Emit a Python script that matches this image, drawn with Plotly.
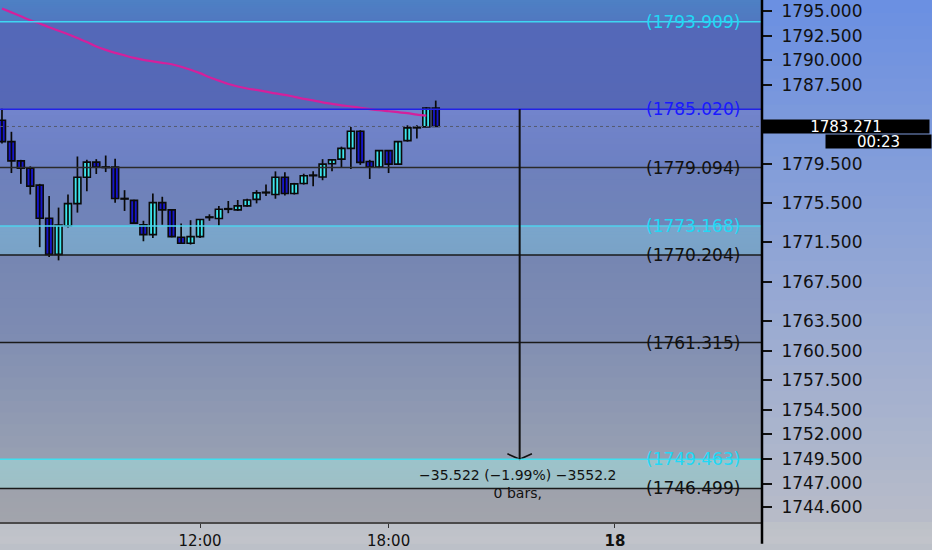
import plotly.graph_objects as go

# bar index of each candle
bar_index = list(range(47))

opens = [1783.90, 1781.73, 1779.78, 1779.04, 1777.31, 1773.95, 1770.28, 1773.19, 1775.43, 1778.11,
         1779.65, 1779.15, 1779.15, 1775.96, 1775.76, 1773.29, 1772.28, 1775.53, 1774.80, 1772.01,
         1771.41, 1772.08, 1774.02, 1773.92, 1774.86, 1774.80, 1775.20, 1775.86, 1776.53, 1776.36,
         1778.11, 1776.46, 1777.47, 1778.27, 1778.14, 1779.48, 1779.95, 1781.05, 1782.79, 1779.72,
         1779.15, 1780.82, 1779.45, 1781.83, 1783.13, 1783.23, 1785.14]
highs = [1785.07, 1782.73, 1779.88, 1779.22, 1777.44, 1776.20, 1775.03, 1776.36, 1780.22, 1779.88,
         1779.95, 1780.32, 1779.98, 1776.80, 1775.83, 1773.69, 1776.46, 1776.13, 1774.86, 1773.42,
         1773.75, 1773.85, 1774.35, 1775.20, 1775.70, 1775.80, 1775.93, 1776.80, 1777.37, 1778.71,
         1778.61, 1777.54, 1778.47, 1778.71, 1779.95, 1779.95, 1781.22, 1783.23, 1782.89, 1779.88,
         1780.88, 1780.88, 1781.76, 1783.39, 1783.39, 1785.24, 1785.90]
lows = [1781.55, 1778.54, 1777.44, 1776.36, 1771.01, 1770.01, 1769.67, 1773.02, 1774.52, 1776.70,
        1778.44, 1778.64, 1775.53, 1774.69, 1773.42, 1771.61, 1771.94, 1773.29, 1772.01, 1771.38,
        1771.28, 1771.94, 1773.69, 1773.19, 1774.46, 1774.69, 1775.12, 1775.46, 1776.20, 1775.93,
        1776.26, 1776.36, 1777.37, 1777.21, 1777.81, 1778.71, 1779.15, 1778.94, 1779.37, 1777.94,
        1779.04, 1778.54, 1779.37, 1781.73, 1782.06, 1783.21, 1783.27]
closes = [1781.73, 1779.78, 1779.04, 1777.21, 1773.95, 1770.28, 1773.25, 1775.43, 1778.11, 1779.65,
          1779.15, 1779.10, 1775.96, 1775.90, 1773.45, 1772.28, 1775.53, 1774.80, 1772.08, 1771.41,
          1772.08, 1773.82, 1774.06, 1774.86, 1774.90, 1775.20, 1775.80, 1776.53, 1776.57, 1778.11,
          1776.46, 1777.44, 1778.27, 1778.31, 1779.45, 1779.88, 1781.05, 1782.79, 1779.62, 1779.15,
          1780.82, 1779.45, 1781.73, 1783.13, 1783.17, 1785.14, 1783.271]

# moving average (magenta)
ma_values = [1795.25, 1794.86, 1794.46, 1794.06, 1793.74, 1793.36, 1793.00, 1792.65, 1792.25, 1791.85,
             1791.40, 1791.05, 1790.75, 1790.49, 1790.24, 1790.04, 1789.89, 1789.74, 1789.59, 1789.34,
             1789.04, 1788.69, 1788.28, 1787.93, 1787.58, 1787.33, 1787.13, 1786.98, 1786.81, 1786.63,
             1786.48, 1786.28, 1786.07, 1785.92, 1785.72, 1785.57, 1785.42, 1785.30, 1785.17, 1785.04,
             1784.92, 1784.82, 1784.72, 1784.62, 1784.47, 1784.37]

# horizontal levels and their colours
levels = [1793.909, 1785.020, 1779.094, 1773.168, 1770.204, 1761.315, 1749.463, 1746.499]
level_colors = ['#3fd6f2', '#2222e6', '#2a2a2a', '#4fd2ec', '#1a1a1a', '#1a1a1a', '#3fe0f0', '#1a1a1a']
label_colors = ['#22d8f5', '#1a1aff', '#111111', '#22d8f5', '#111111', '#111111', '#22d8f5', '#111111']

last_price = 1783.271
countdown = '00:23'

# price scale ticks
ytick_vals = [1795.0, 1792.5, 1790.0, 1787.5, 1779.5, 1775.5, 1771.5, 1767.5,
              1763.5, 1760.5, 1757.5, 1754.5, 1752.0, 1749.5, 1747.0, 1744.6]
# time scale ticks
xtick_vals = [21, 41, 65]
xtick_text = ['12:00', '18:00', '<b>18</b>']

# measure tool
measure_bar = 54.9
measure_from = 1785.020
measure_to = 1749.463
measure_text = '\u221235.522 (\u22121.99%) \u22123552.2'
measure_bars = '0 bars,'

Y_TOP, Y_BOT = 1796.119, 1743.09
X_LEFT, X_RIGHT = -0.21, 80.6
FONT = 'DejaVu Sans'
UP_FILL, DOWN_FILL = '#3ee4ec', '#1616c8'


def mix(c1, c2, t):
    a = [int(c1[i:i + 2], 16) for i in (1, 3, 5)]
    b = [int(c2[i:i + 2], 16) for i in (1, 3, 5)]
    return 'rgb(%d,%d,%d)' % tuple(round(a[k] + (b[k] - a[k]) * t) for k in range(3))


shapes = []


def gradient(x0, x1, y0, y1, c_top, c_bot, xref, yref, steps=30):
    # y0 is the top edge, y1 the bottom edge; each strip runs to the bottom so no seams show
    for i in range(steps):
        ta = y0 + (y1 - y0) * i / steps
        shapes.append(dict(type='rect', xref=xref, yref=yref, x0=x0, x1=x1, y0=ta, y1=y1,
                           fillcolor=mix(c_top, c_bot, (i + 0.5) / steps),
                           line=dict(width=0), layer='below'))


# zone fills of the plot area
zones = [
    (Y_TOP, levels[0], '#4e80c4', '#5078c0'),
    (levels[0], levels[1], '#5468b8', '#5668b6'),
    (levels[1], levels[2], '#7284cc', '#6c80c2'),
    (levels[2], levels[3], '#6e80bc', '#7084b8'),
    (levels[3], levels[4], '#7aa6cc', '#7aa2c6'),
    (levels[4], levels[5], '#7686b2', '#7e8cb2'),
    (levels[5], levels[6], '#828fb2', '#97a0b2'),
    (levels[6], levels[7], '#9cc2ca', '#9ec0c6'),
    (levels[7], Y_BOT, '#9ea2ac', '#a2a4ac'),
]
for top, bot, ct, cb in zones:
    gradient(0, 1, top, bot, ct, cb, 'paper', 'y', steps=10)

# price scale panel and time scale strip
px_w = 170 / 762
gradient(1, 1 + px_w, 1, 0, '#6a8fe2', '#b8bcc8', 'paper', 'paper', steps=40)
gradient(0, 1 + px_w, 0, -22 / 528, '#bcc0c8', '#c2c4ca', 'paper', 'paper', steps=3)

# level lines
for lv, col in zip(levels, level_colors):
    shapes.append(dict(type='line', xref='paper', yref='y', x0=0, x1=1, y0=lv, y1=lv,
                       line=dict(color=col, width=1.5)))

# last price dotted line
shapes.append(dict(type='line', xref='paper', yref='y', x0=0, x1=1, y0=last_price, y1=last_price,
                   line=dict(color='#555a70', width=1, dash='dot')))

# price scale border, down to bottom
shapes.append(dict(type='line', xref='paper', yref='paper', x0=1, x1=1, y0=-22 / 528, y1=1,
                   line=dict(color='#000000', width=2.5)))

# measure arrow line
shapes.append(dict(type='line', xref='x', yref='y', x0=measure_bar, x1=measure_bar,
                   y0=measure_from, y1=measure_to, line=dict(color='#111111', width=2)))

fig = go.Figure()

# wicks
wick_x, wick_y = [], []
for i, h, l in zip(bar_index, highs, lows):
    wick_x += [i, i, None]
    wick_y += [l, h, None]
fig.add_trace(go.Scatter(x=wick_x, y=wick_y, mode='lines',
                         line=dict(color='#0a0a0a', width=1.7), hoverinfo='skip'))

# bodies
body_base = [min(o, c) for o, c in zip(opens, closes)]
body_size = [max(abs(c - o), 0.06) for o, c in zip(opens, closes)]
body_color = [UP_FILL if c >= o else DOWN_FILL for o, c in zip(opens, closes)]
fig.add_trace(go.Bar(x=bar_index, y=body_size, base=body_base, width=0.74,
                     marker=dict(color=body_color, line=dict(color='#0a0a0a', width=1.6)),
                     hoverinfo='skip'))

fig.add_trace(go.Scatter(
    x=bar_index[:len(ma_values)], y=ma_values, mode='lines',
    line=dict(color='#d4209c', width=2.2, shape='spline'), hoverinfo='skip',
))

# arrowhead of the measure tool
fig.add_trace(go.Scatter(
    x=[measure_bar - 1.3, measure_bar, measure_bar + 1.3],
    y=[measure_to + 0.55, measure_to, measure_to + 0.55],
    mode='lines', line=dict(color='#111111', width=1.6), hoverinfo='skip',
))

annotations = []
for lv, col in zip(levels, label_colors):
    annotations.append(dict(xref='paper', yref='y', x=742 / 762, y=lv, xanchor='right',
                            yanchor='middle', showarrow=False, text='(%.3f)' % lv,
                            font=dict(family=FONT, size=17, color=col)))

# measure readout, two lines in one label
annotations.append(dict(xref='x', yref='y', x=measure_bar - 0.2, y=1746.95, showarrow=False,
                        text=measure_text + '<br>' + measure_bars, align='center',
                        xanchor='center', yanchor='middle',
                        font=dict(family=FONT, size=14, color='#111111')))

# last price and countdown labels on the price scale
annotations.append(dict(xref='paper', yref='y', x=1, y=last_price, xanchor='left',
                        yanchor='middle', showarrow=False, text='%.3f' % last_price,
                        width=166, height=13, align='center', bgcolor='#000000', borderpad=0,
                        font=dict(family=FONT, size=15, color='#ffffff')))
annotations.append(dict(xref='paper', yref='y', x=1 + 63 / 762, y=last_price - 1.55,
                        xanchor='left', yanchor='middle', showarrow=False, text=countdown,
                        width=105, height=13, align='center', bgcolor='#000000', borderpad=0,
                        font=dict(family=FONT, size=15, color='#ffffff')))

fig.update_layout(
    width=932, height=550,
    margin=dict(l=0, r=170, t=0, b=22),
    paper_bgcolor='#bcc0c8', plot_bgcolor='#7080b8',
    shapes=shapes, annotations=annotations,
    showlegend=False, hovermode=False,
    xaxis=dict(range=[X_LEFT, X_RIGHT], showgrid=False,
               zeroline=False, tickvals=xtick_vals, ticktext=xtick_text, ticks='outside',
               ticklen=4, tickcolor='#333333', showline=True, linecolor='#4a4a4a', linewidth=1.5,
               tickfont=dict(family=FONT, size=15, color='#111111'), fixedrange=True),
    yaxis=dict(range=[Y_BOT, Y_TOP], side='right', showgrid=False, zeroline=False,
               tickvals=ytick_vals, ticktext=['%.3f' % v for v in ytick_vals],
               ticks='outside', ticklen=9, tickcolor='#111111', tickwidth=1.5,
               ticklabelstandoff=6,
               tickfont=dict(family=FONT, size=17, color='#111111'), fixedrange=True),
)

fig.write_html('out.html', config={'displayModeBar': False},
               post_script="document.body.style.margin='0';")
